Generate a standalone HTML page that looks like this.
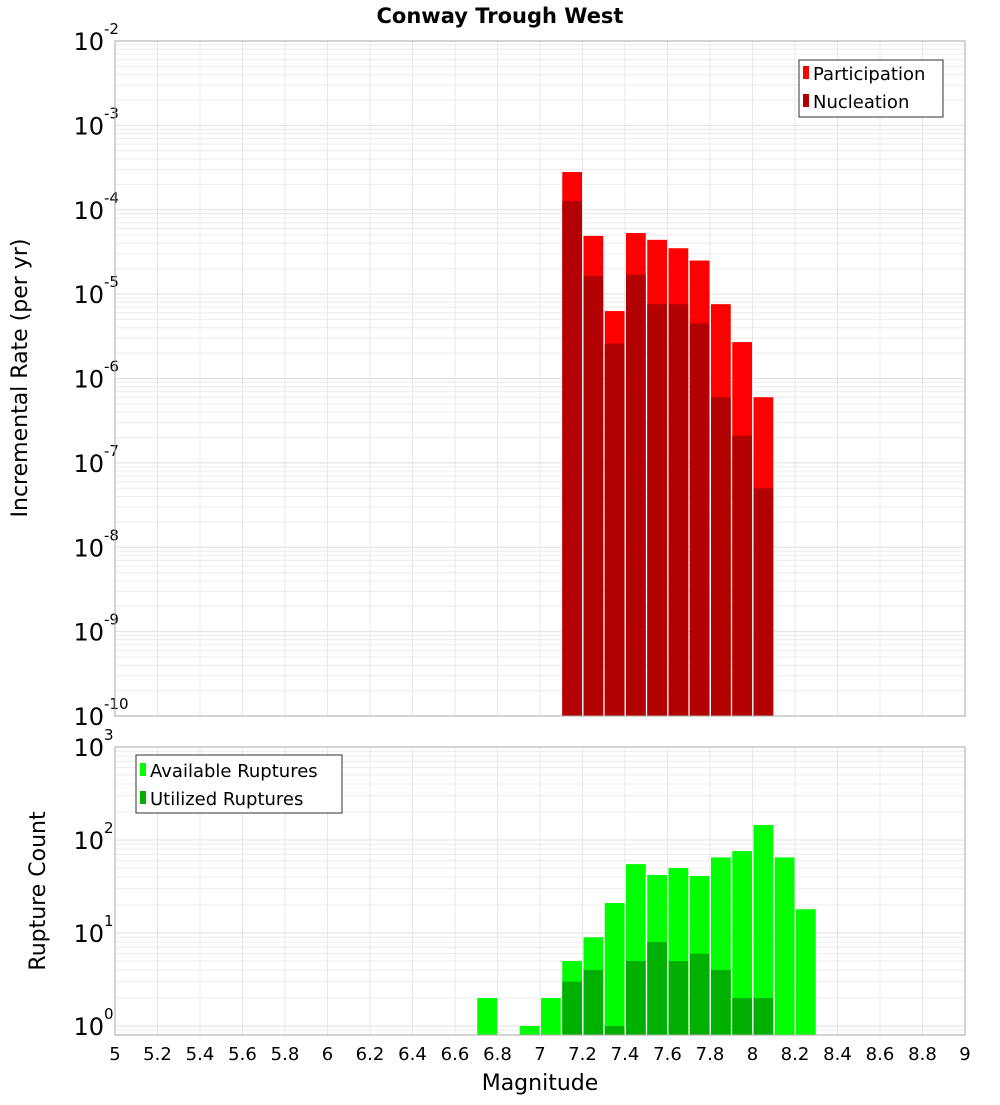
<!DOCTYPE html>
<html><head><meta charset="utf-8"><style>
body{margin:0;background:#fff;font-family:"Liberation Sans","DejaVu Sans",sans-serif}
svg text{font-family:"DejaVu Sans","Liberation Sans",sans-serif}
</style></head><body>
<svg id="chart" width="1000" height="1100" xmlns="http://www.w3.org/2000/svg">
<text x="500" y="23" text-anchor="middle" font-size="21" font-weight="bold">Conway Trough West</text>
<g id="topPanel"></g><g id="botPanel"></g>
<text transform="translate(27,378) rotate(-90)" text-anchor="middle" font-size="22">Incremental Rate (per yr)</text>
<text transform="translate(45,891) rotate(-90)" text-anchor="middle" font-size="22">Rupture Count</text>
<text x="540" y="1090" text-anchor="middle" font-size="22">Magnitude</text>
<g>
<rect x="799" y="60" width="144" height="57" fill="#fff" stroke="#333"/>
<rect x="803" y="66" width="6" height="13" fill="#ff0000"/>
<text x="813" y="80" font-size="18">Participation</text>
<rect x="803" y="94" width="6" height="13" fill="#b30000"/>
<text x="813" y="108" font-size="18">Nucleation</text>
</g>
<g>
<rect x="136" y="755" width="206" height="58" fill="#fff" stroke="#333"/>
<rect x="140" y="763" width="6" height="13" fill="#00ff00"/>
<text x="150" y="777" font-size="18">Available Ruptures</text>
<rect x="140" y="791" width="6" height="13" fill="#00b000"/>
<text x="150" y="805" font-size="18">Utilized Ruptures</text>
</g>
</svg>
<script>
const mags=[7.1,7.2,7.3,7.4,7.5,7.6,7.7,7.8,7.9,8.0];
const participation=[2.8e-4,4.9e-5,6.3e-6,5.3e-5,4.4e-5,3.5e-5,2.5e-5,7.6e-6,2.7e-6,6.0e-7];
const nucleation=[1.27e-4,1.64e-5,2.6e-6,1.7e-5,7.6e-6,7.6e-6,4.5e-6,6.0e-7,2.1e-7,5.0e-8];
const countMags=[6.7,6.9,7.0,7.1,7.2,7.3,7.4,7.5,7.6,7.7,7.8,7.9,8.0,8.1,8.2];
const available=[2,1,2,5,9,21,55,42,50,41,65,76,145,65,18];
const utilized=[0,0,0,3,4,1,5,8,5,6,4,2,2,0,0];
const xTicks=[5,5.2,5.4,5.6,5.8,6,6.2,6.4,6.6,6.8,7,7.2,7.4,7.6,7.8,8,8.2,8.4,8.6,8.8,9];
const topDecades=[-10,-9,-8,-7,-6,-5,-4,-3,-2];
const botDecades=[0,1,2,3];
const NS='http://www.w3.org/2000/svg';
const X0=115,X1=965;
const xs=m=>X0+(m-5)/4*(X1-X0);
const yTop=v=>41+(-2-Math.log10(v))*84.375;
const yBot=v=>1026-Math.log10(v)*93;
function mk(p,t,a){const e=document.createElementNS(NS,t);for(const k in a)e.setAttribute(k,a[k]);p.appendChild(e);return e;}
function panel(g,y0,y1,yf,decs,lo,hi){
  for(let d=lo;d<hi;d++)for(let k=2;k<10;k++){const y=yf(k*Math.pow(10,d));if(y>y0&&y<y1){const l=mk(g,'line',{x1:X0,x2:X1,y1:y,y2:y,stroke:'#ececec'});
    
    }}
  decs.forEach(d=>{const y=yf(Math.pow(10,d));if(y>y0&&y<y1){const l=mk(g,'line',{x1:X0,x2:X1,y1:y,y2:y,stroke:'#e0e0e0'});
    
    }
    const t=mk(g,'text',{x:104,y:y+9,'text-anchor':'end','font-size':24});t.textContent='10';
    
    
    const s=mk(g,'text',{x:104,y:y-7,'font-size':15});s.textContent=String(d);
    
    });
  xTicks.forEach(m=>{const l=mk(g,'line',{x1:xs(m),x2:xs(m),y1:y0,y2:y1,stroke:'#e8e8e8'});
    
    });
}
const topG=document.getElementById('topPanel'),botG=document.getElementById('botPanel');
panel(topG,41,716,yTop,topDecades,-10,-2);
panel(botG,747,1035,yBot,botDecades,-1,3);
mags.forEach((m,i)=>{
  const x=xs(m)+1,w=xs(m+0.1)-xs(m)-1.5;
  let y=yTop(participation[i]);let r=mk(topG,'rect',{x:x,y:y,width:w,height:716-y,fill:'#ff0000'});
  
  
  y=yTop(nucleation[i]);r=mk(topG,'rect',{x:x,y:y,width:w,height:716-y,fill:'#b30000'});
  
  
});
countMags.forEach((m,i)=>{
  const x=xs(m)+1,w=xs(m+0.1)-xs(m)-1.5;
  let y=yBot(available[i]);let r=mk(botG,'rect',{x:x,y:y,width:w,height:1035-y,fill:'#00ff00'});
  
  
  if(utilized[i]>0){y=yBot(utilized[i]);r=mk(botG,'rect',{x:x,y:y,width:w,height:1035-y,fill:'#00b000'});
  
  }
});
let f=mk(topG,'rect',{x:X0,y:41,width:X1-X0,height:675,fill:'none',stroke:'#aaa'});


f=mk(botG,'rect',{x:X0,y:747,width:X1-X0,height:288,fill:'none',stroke:'#aaa'});


xTicks.forEach(m=>{const t=mk(botG,'text',{x:xs(m),y:1060,'text-anchor':'middle','font-size':18});t.textContent=String(m);
  
  });
</script>
</body></html>
